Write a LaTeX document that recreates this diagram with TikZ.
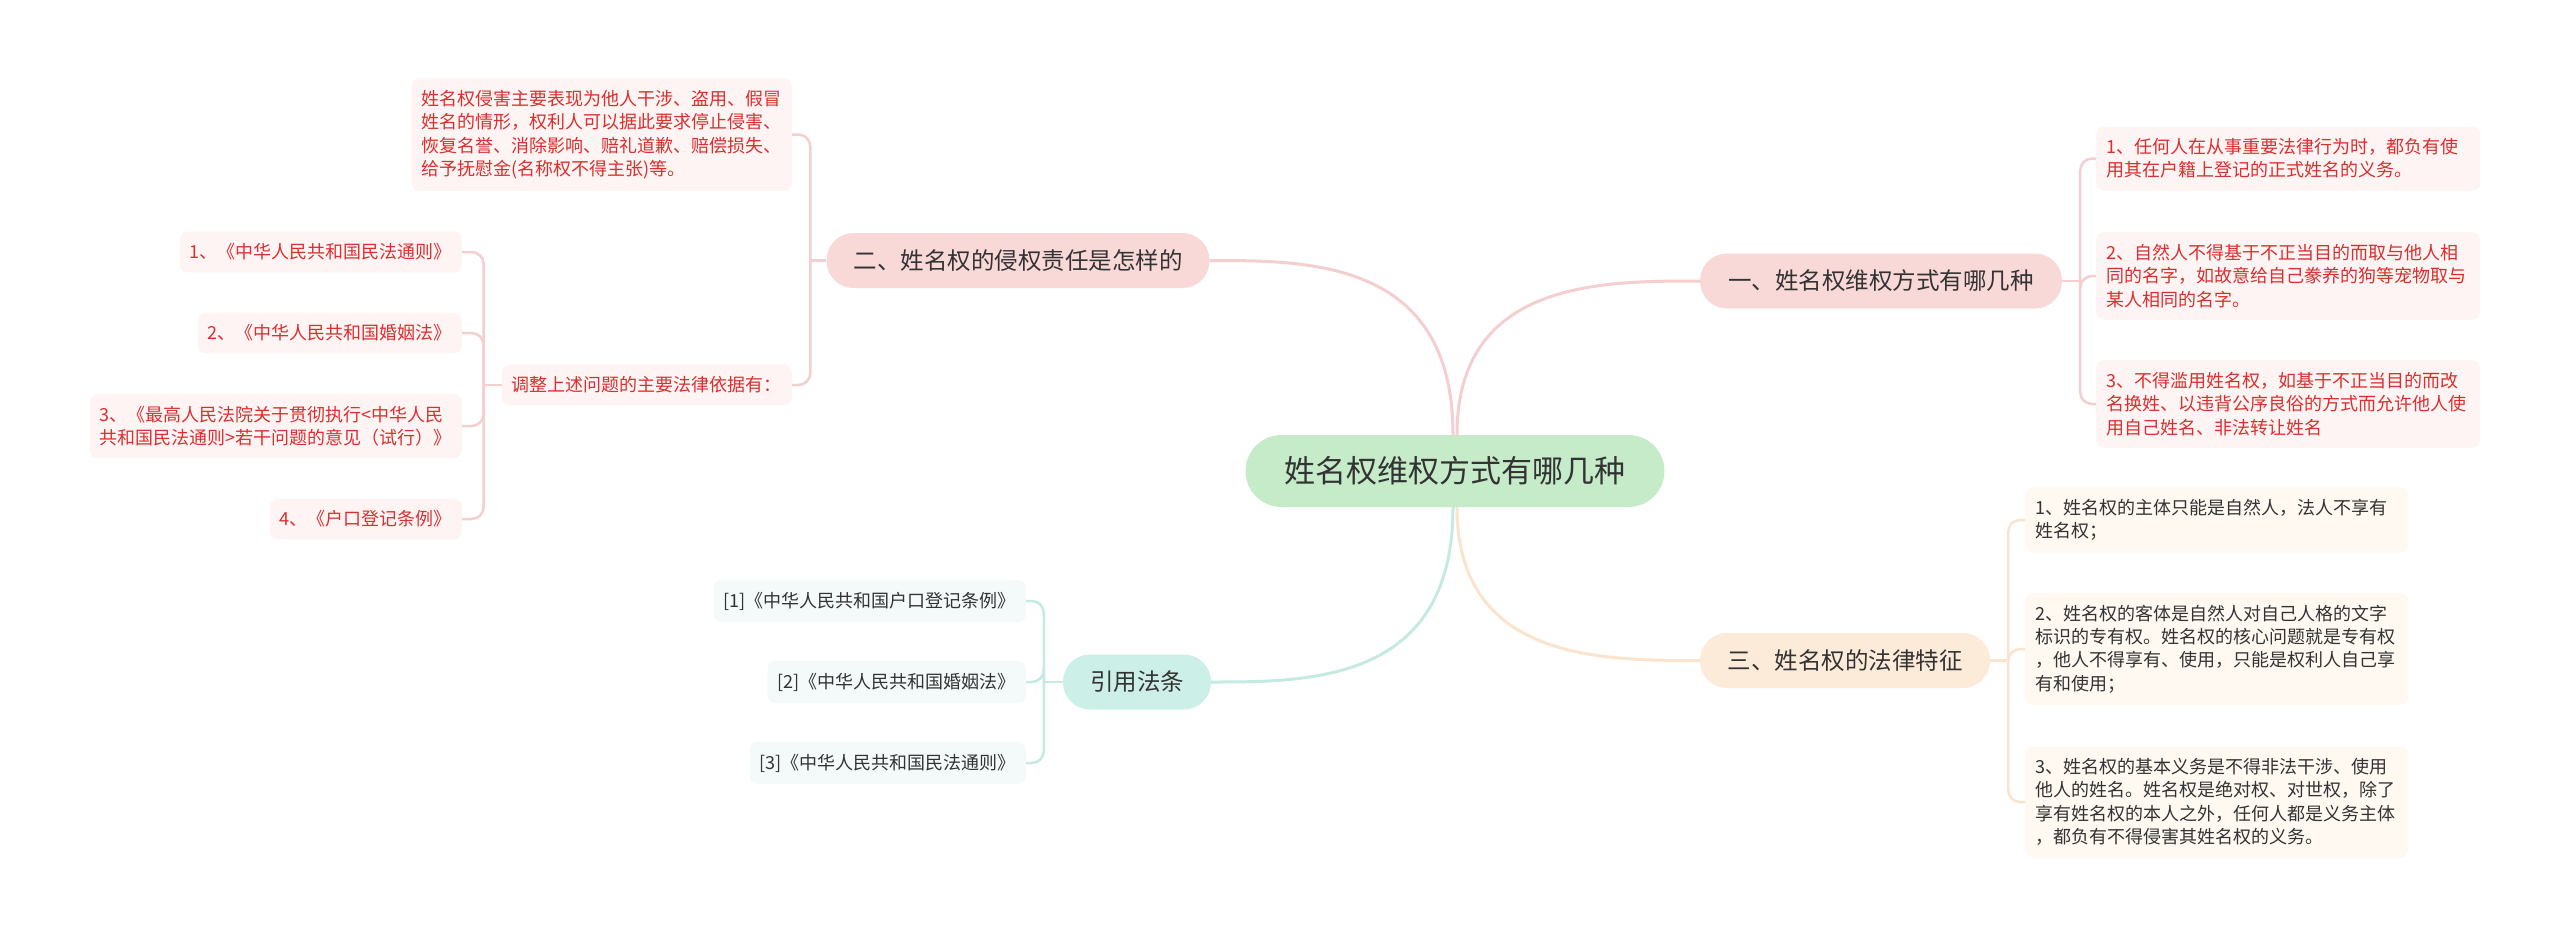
\documentclass[tikz,border=0pt]{standalone}
\usepackage{fontspec}
\setmainfont{Noto Sans CJK SC}
\usetikzlibrary{calc}
\definecolor{cgreen}{HTML}{C6EBC9}
\definecolor{pinkfill}{HTML}{F9D8D8}
\definecolor{peachfill}{HTML}{FDEBDA}
\definecolor{mintfill}{HTML}{CCEFE8}
\definecolor{pinkline}{HTML}{F5CFCF}
\definecolor{peachline}{HTML}{FBE4CD}
\definecolor{mintline}{HTML}{C4EAE2}
\definecolor{pinkbg}{HTML}{FEF4F4}
\definecolor{peachbg}{HTML}{FFF9F2}
\definecolor{mintbg}{HTML}{F3FAF9}
\definecolor{redtext}{HTML}{D92F2F}
\definecolor{textdark}{HTML}{333333}
\tikzset{
  centernode/.style={fill=cgreen, rounded corners=36pt, minimum width=419pt, minimum height=72pt, inner sep=0pt, text=textdark, font=\fontsize{31}{31}\selectfont},
  branch/.style={rounded corners=27pt, minimum height=55pt, inner sep=0pt, text=textdark, font=\fontsize{23.5}{23.5}\selectfont},
  leaf/.style={rounded corners=8pt, inner xsep=10pt, inner ysep=12pt, align=left, font=\fontsize{18}{23.3}\selectfont},
  pinkleaf/.style={leaf, fill=pinkbg, text=redtext},
  peachleaf/.style={leaf, fill=peachbg, text=textdark, text width=363pt},
  mintleaf/.style={leaf, fill=mintbg, text=textdark},
  rightleaf/.style={pinkleaf, text width=364pt},
  mainlink/.style={line width=3pt},
  sublink/.style={line width=2.5pt, rounded corners=12pt},
}
\begin{document}
\begin{tikzpicture}[x=1pt, y=-1pt]
\useasboundingbox[fill=white] (0,0) rectangle (2560,937);

% central and main branches
\node[centernode] (c) at (1455,471) {姓名权维权方式有哪几种};
\node[branch, fill=pinkfill, minimum width=383pt] (b2) at (1018,260.5) {二、姓名权的侵权责任是怎样的};
\node[branch, fill=pinkfill, minimum width=362pt] (b1) at (1881,281) {一、姓名权维权方式有哪几种};
\node[branch, fill=peachfill, minimum width=290pt] (b3) at (1845,660.5) {三、姓名权的法律特征};
\node[branch, fill=mintfill, minimum width=148pt] (b4) at (1137,682) {引用法条};

\draw[mainlink, pinkline] ($(c.north)+(-2,0)$) .. controls +(0,-175) and +(100,0) .. (b2.east);
\draw[mainlink, pinkline] ($(c.north)+(2,0)$) .. controls +(0,-154) and +(-100,0) .. (b1.west);
\draw[mainlink, peachline] ($(c.south)+(2,0)$) .. controls +(0,153) and +(-100,0) .. (b3.west);
\draw[mainlink, mintline] ($(c.south)+(-2,0)$) .. controls +(0,175) and +(100,0) .. (b4.east);

% branch 2 (left, top)
\node[pinkleaf, anchor=east] (t2a) at (792,134.5) {姓名权侵害主要表现为他人干涉、盗用、假冒\\姓名的情形，权利人可以据此要求停止侵害、\\恢复名誉、消除影响、赔礼道歉、赔偿损失、\\给予抚慰金(名称权不得主张)等。};
\node[pinkleaf, anchor=east] (sub) at (792,385) {调整上述问题的主要法律依据有：};
\coordinate (j2) at ($(b2.west)+(-16,0)$);
\draw[sublink, pinkline] (b2.west) -- (j2);
\draw[sublink, pinkline] (j2) |- (t2a.east);
\draw[sublink, pinkline] (j2) |- (sub.east);

\node[pinkleaf, anchor=east] (s1) at (462,252) {1、《中华人民共和国民法通则》};
\node[pinkleaf, anchor=east] (s2) at (462,333) {2、《中华人民共和国婚姻法》};
\node[pinkleaf, anchor=east] (s3) at (462,426) {3、《最高人民法院关于贯彻执行<中华人民\\共和国民法通则>若干问题的意见（试行）》};
\node[pinkleaf, anchor=east] (s4) at (462,519) {4、《户口登记条例》};
\coordinate (js) at ($(sub.west)+(-18,0)$);
\draw[sublink, pinkline] (sub.west) -- (js);
\draw[sublink, pinkline] (js) |- (s1.east);
\draw[sublink, pinkline] (js) |- (s2.east);
\draw[sublink, pinkline] (js) |- (s3.east);
\draw[sublink, pinkline] (js) |- (s4.east);

% branch 1 (right, top)
\node[rightleaf, anchor=west] (r1) at (2096,158.5) {1、任何人在从事重要法律行为时，都负有使\\用其在户籍上登记的正式姓名的义务。};
\node[rightleaf, anchor=west] (r2) at (2096,276) {2、自然人不得基于不正当目的而取与他人相\\同的名字，如故意给自己豢养的狗等宠物取与\\某人相同的名字。};
\node[rightleaf, anchor=west] (r3) at (2096,404) {3、不得滥用姓名权，如基于不正当目的而改\\名换姓、以违背公序良俗的方式而允许他人使\\用自己姓名、非法转让姓名};
\coordinate (j1) at ($(b1.east)+(18,0)$);
\draw[sublink, pinkline] (b1.east) -- (j1);
\draw[sublink, pinkline] (j1) |- (r1.west);
\draw[sublink, pinkline] (j1) |- (r2.west);
\draw[sublink, pinkline] (j1) |- (r3.west);

% branch 3 (right, bottom)
\node[peachleaf, anchor=west] (m1) at (2025,520) {1、姓名权的主体只能是自然人，法人不享有\\姓名权；};
\node[peachleaf, anchor=west] (m2) at (2025,649) {2、姓名权的客体是自然人对自己人格的文字\\标识的专有权。姓名权的核心问题就是专有权\\，他人不得享有、使用，只能是权利人自己享\\有和使用；};
\node[peachleaf, anchor=west] (m3) at (2025,802) {3、姓名权的基本义务是不得非法干涉、使用\\他人的姓名。姓名权是绝对权、对世权，除了\\享有姓名权的本人之外，任何人都是义务主体\\，都负有不得侵害其姓名权的义务。};
\coordinate (j3) at ($(b3.east)+(18,0)$);
\draw[sublink, peachline] (b3.east) -- (j3);
\draw[sublink, peachline] (j3) |- (m1.west);
\draw[sublink, peachline] (j3) |- (m2.west);
\draw[sublink, peachline] (j3) |- (m3.west);

% branch 4 (left, bottom)
\node[mintleaf, anchor=east] (q1) at (1026,601) {[1]《中华人民共和国户口登记条例》};
\node[mintleaf, anchor=east] (q2) at (1026,682) {[2]《中华人民共和国婚姻法》};
\node[mintleaf, anchor=east] (q3) at (1026,763) {[3]《中华人民共和国民法通则》};
\coordinate (j4) at ($(b4.west)+(-19,0)$);
\draw[sublink, mintline] (b4.west) -- (j4);
\draw[sublink, mintline] (j4) |- (q1.east);
\draw[sublink, mintline] (j4) |- (q2.east);
\draw[sublink, mintline] (j4) |- (q3.east);
\end{tikzpicture}
\end{document}
